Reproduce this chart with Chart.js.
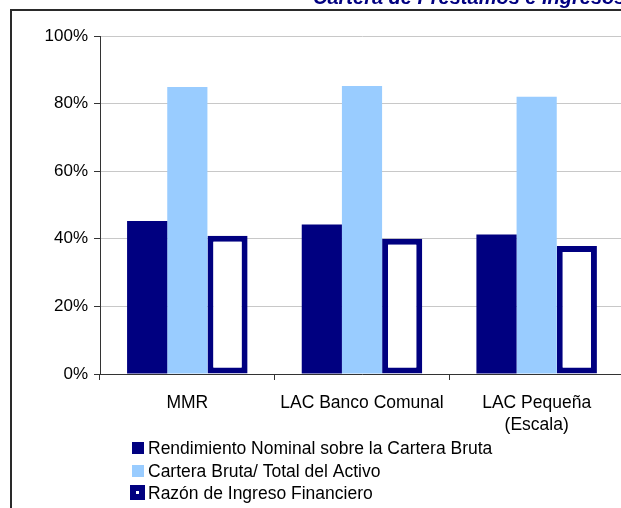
<!DOCTYPE html>
<html>
<head>
<meta charset="utf-8">
<script src="https://cdn.jsdelivr.net/npm/chart.js@4/dist/chart.umd.min.js"></script>
<style>
html,body{margin:0;padding:0;background:#fff;overflow:hidden;width:621px;height:508px;}
#wrap{position:relative;width:625px;height:508px;}
</style>
</head>
<body>
<div id="wrap"><canvas id="c" width="625" height="508"></canvas></div>
<script>
const titleText = "Cartera de Préstamos e Ingresos";
const categories = ["MMR", "LAC Banco Comunal", ["LAC Pequeña", "(Escala)"]];
const seriesNames = [
  "Rendimiento Nominal sobre la Cartera Bruta",
  "Cartera Bruta/ Total del Activo",
  "Razón de Ingreso Financiero"
];
const rendimiento = [45.3, 44.2, 41.3];
const carteraActivo = [84.9, 85.2, 82.0];
const razonIngreso = [40.9, 40.0, 37.9];
const yTicks = [0, 20, 40, 60, 80, 100];

const NAVY = "#000080";
const LIGHT = "#99CCFF";
const FONT = "'Liberation Sans', Arial, sans-serif";

const decor = {
  id: "decor",
  afterDraw(chart) {
    const ctx = chart.ctx;
    ctx.save();
    // frame lines
    ctx.strokeStyle = "#2a2a2a";
    ctx.lineWidth = 2;
    ctx.beginPath();
    ctx.moveTo(11, 508);
    ctx.lineTo(11, 10);
    ctx.lineTo(625, 10);
    ctx.stroke();
    // clipped title
    ctx.fillStyle = NAVY;
    ctx.font = "italic bold 20px " + FONT;
    ctx.textAlign = "left";
    ctx.textBaseline = "alphabetic";
    ctx.fillText(titleText, 313, 4);
    // legend
    ctx.font = "17.5px " + FONT;
    ctx.textBaseline = "middle";
    const ds = chart.data.datasets;
    const rows = [448, 471, 493];
    ds.forEach((d, i) => {
      const y = rows[i];
      if (i === 2) {
        ctx.fillStyle = NAVY;
        ctx.fillRect(130, y - 8, 15, 15);
        ctx.fillStyle = "#fff";
        ctx.fillRect(136, y - 2, 3, 3);
      } else {
        ctx.fillStyle = d.backgroundColor;
        ctx.fillRect(132, y - 6, 12, 12);
      }
      ctx.fillStyle = "#000";
      ctx.fillText(d.label, 148, y + 1);
    });
    ctx.restore();
  }
};

new Chart(document.getElementById("c"), {
  type: "bar",
  data: {
    labels: categories,
    datasets: [
      { label: seriesNames[0], data: rendimiento, backgroundColor: NAVY, borderWidth: 0 },
      { label: seriesNames[1], data: carteraActivo, backgroundColor: LIGHT, borderWidth: 0 },
      { label: seriesNames[2], data: razonIngreso, backgroundColor: "#ffffff", borderColor: NAVY, borderWidth: 6, borderSkipped: false }
    ]
  },
  options: {
    responsive: false,
    animation: false,
    devicePixelRatio: 1,
    layout: { padding: { top: 36, left: 0, right: 1, bottom: 0 } },
    datasets: { bar: { categoryPercentage: 0.69, barPercentage: 1.0 } },
    plugins: { legend: { display: false }, tooltip: { enabled: false } },
    scales: {
      x: {
        grid: { drawOnChartArea: false, drawTicks: true, tickLength: 6, color: "#333", offset: true },
        border: { color: "#333", width: 1 },
        ticks: { color: "#000", font: { family: FONT, size: 17.5, lineHeight: 1.26 }, padding: 12, maxRotation: 0, autoSkip: false },
        afterFit(s) { s.height = 134; }
      },
      y: {
        min: 0, max: 100,
        afterBuildTicks(s) { s.ticks = yTicks.map(v => ({ value: v })); },
        grid: { color: "#c8c8c8", tickColor: "#333", tickLength: 6 },
        border: { color: "#333", width: 1 },
        ticks: { color: "#000", font: { family: FONT, size: 17 }, padding: 6, callback: v => v + "%" },
        afterFit(s) { s.width = 100; }
      }
    }
  },
  plugins: [decor]
});
</script>
</body>
</html>
